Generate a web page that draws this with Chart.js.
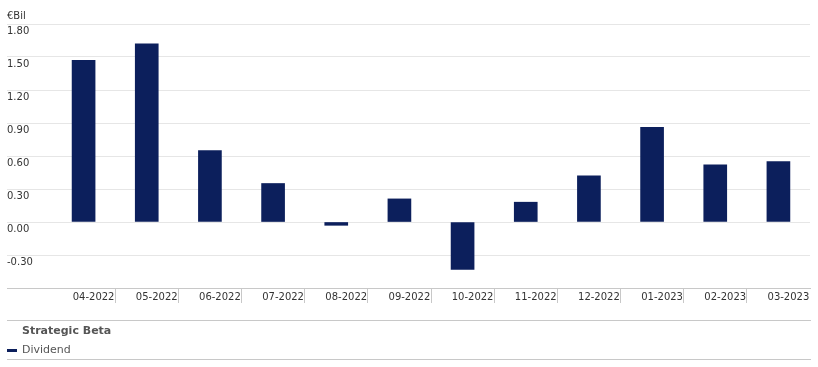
<!DOCTYPE html>
<html>
<head>
<meta charset="utf-8">
<script src="https://cdn.jsdelivr.net/npm/chart.js@4.4.7/dist/chart.umd.min.js"></script>
<style>
  html, body { margin: 0; padding: 0; background: #fff; }
  #wrap { width: 818px; height: 367px; position: relative; }
</style>
</head>
<body>
<div id="wrap"><canvas id="chart"></canvas></div>
<script>
// Monthly values, € billions
const months = ["04-2022", "05-2022", "06-2022", "07-2022", "08-2022", "09-2022",
  "10-2022", "11-2022", "12-2022", "01-2023", "02-2023", "03-2023"];
const dividend = [1.47, 1.62, 0.65, 0.35, -0.03, 0.21, -0.43, 0.18, 0.42, 0.86, 0.52, 0.55];
const yTicks = [-0.6, -0.3, 0, 0.3, 0.6, 0.9, 1.2, 1.5, 1.8];
const groupTitle = "Strategic Beta";
const unitLabel = "€Bil";

const FONT = "DejaVu Sans";
const GRID = "#e6e6e6";
const AXIS = "#c8c8c8";
const NAVY = "#0c1f5c";

// unit label on top and the legend block under the axis
const extras = {
  id: "extras",
  afterDraw(chart) {
    const ctx = chart.ctx;
    ctx.save();
    ctx.font = "10px '" + FONT + "'";
    ctx.fillStyle = "#333";
    ctx.textBaseline = "middle";
    ctx.textAlign = "left";
    ctx.fillText(unitLabel, 7, 16);

    // separator lines
    ctx.strokeStyle = AXIS;
    ctx.lineWidth = 1;
    ctx.beginPath();
    ctx.moveTo(7, 320.5); ctx.lineTo(811, 320.5);
    ctx.moveTo(7, 359.5); ctx.lineTo(811, 359.5);
    ctx.stroke();

    ctx.font = "bold 11px '" + FONT + "'";
    ctx.fillStyle = "#555";
    ctx.fillText(groupTitle, 22, 331);

    const ds = chart.data.datasets[0];
    ctx.fillStyle = ds.backgroundColor;
    ctx.fillRect(7, 349, 10, 3);
    ctx.font = "11px '" + FONT + "'";
    ctx.fillStyle = "#555";
    ctx.fillText(ds.label, 22, 350.5);
    ctx.restore();
  }
};

new Chart(document.getElementById("chart"), {
  type: "bar",
  data: {
    labels: months,
    datasets: [{
      label: "Dividend",
      data: dividend,
      backgroundColor: NAVY,
      borderWidth: 0,
      barThickness: 23,
      categoryPercentage: 1
    }]
  },
  options: {
    responsive: true,
    maintainAspectRatio: false,
    animation: false,
    layout: { padding: { left: 7, right: 8, top: 24, bottom: 49 } },
    plugins: {
      legend: { display: false },
      tooltip: { enabled: false }
    },
    scales: {
      x: {
        offset: true,
        grid: {
          offset: true,
          drawOnChartArea: false,
          drawTicks: true,
          tickLength: 15,
          // only the dividers between months, not the two outer edges
          color: (c) => (c.type !== "tick" || c.index === 0) ? "rgba(0,0,0,0)" : AXIS
        },
        border: { display: true, color: AXIS },
        ticks: {
          font: { family: FONT, size: 10 },
          color: "#333",
          padding: -12,
          labelOffset: 10,
          maxRotation: 0,
          autoSkip: false
        },
        afterFit: (s) => { s.height = 30; }
      },
      y: {
        min: -0.6,
        max: 1.8,
        afterBuildTicks: (s) => { s.ticks = yTicks.map((v) => ({ value: v })); },
        grid: {
          color: (c) => (c.tick && c.tick.value === -0.6) ? AXIS : GRID,
          drawTicks: true,
          tickLength: 45
        },
        border: { display: false },
        ticks: {
          font: { family: FONT, size: 10 },
          color: "#333",
          crossAlign: "far",
          labelOffset: 7,
          callback: (v) => v === -0.6 ? "" : v.toFixed(2)
        },
        afterFit: (s) => { s.width = 45; }
      }
    }
  },
  plugins: [extras]
});
</script>
</body>
</html>
